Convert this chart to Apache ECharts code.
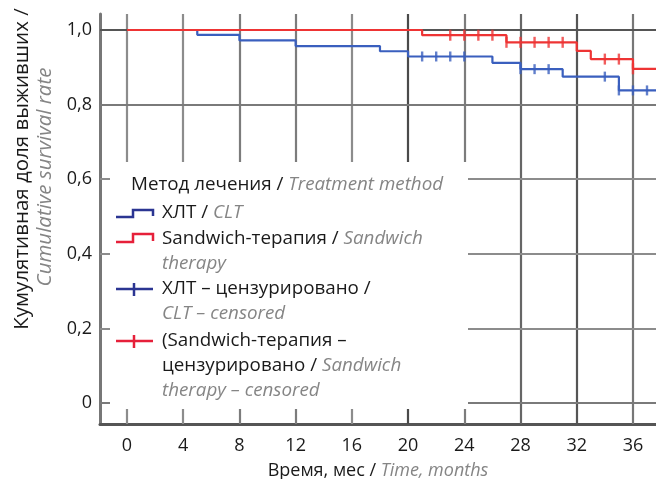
<!DOCTYPE html>
<html>
<head>
<meta charset="utf-8">
<script src="https://cdn.jsdelivr.net/npm/echarts@6/dist/echarts.min.js"></script>
<style>html,body{margin:0;padding:0;background:#fff}#c{width:656px;height:479px}</style>
</head>
<body>
<div id="c"></div>
<script>
// ---- data ----
var xTicks = [0, 4, 8, 12, 16, 20, 24, 28, 32, 36];
var yTicks = [0, 0.2, 0.4, 0.6, 0.8, 1.0];
// Kaplan-Meier steps: [month, survival] – value holds from that month on
var cltSteps = [[0, 1.0], [5, 0.987], [8, 0.972], [12, 0.957], [18, 0.943], [20, 0.929], [26, 0.912], [28, 0.895], [31, 0.875], [35, 0.838], [37.64, 0.838]];
var sandwichSteps = [[0, 1.0], [21, 0.986], [27, 0.967], [32, 0.944], [33, 0.922], [36, 0.896], [37.64, 0.896]];
var cltCensored = [[21, 0.929], [22, 0.929], [23, 0.929], [24, 0.929], [28, 0.895], [29, 0.895], [30, 0.895], [34, 0.875], [35, 0.838], [36, 0.838], [37, 0.838]];
var sandwichCensored = [[23, 0.986], [24, 0.986], [25, 0.986], [26, 0.986], [27, 0.967], [28, 0.967], [29, 0.967], [30, 0.967], [31, 0.967], [34, 0.922], [35, 0.922], [36, 0.896]];

var FONT = '"Open Sans", sans-serif';
var BLACK = '#1a1a1a', GRAY = '#858585';
var blue = '#3a5fbe', red = '#ee3434';
var legBlue = '#2b3592', legRed = '#e6203a';

var vColors = ['#8c8c8c', '#8c8c8c', '#7c7c7c', '#7c7c7c', '#8c8c8c', '#4a4a4a', '#7c7c7c', '#666', '#555', '#777'];
var hColors = ['#7a7a7a', '#8c8c8c', '#8c8c8c', '#8c8c8c', '#7a7a7a', '#555'];

var gridLines = [];
xTicks.forEach(function (v, i) {
  gridLines.push({ xAxis: v, lineStyle: { color: vColors[i], width: 2.2, type: 'solid' } });
});
yTicks.forEach(function (v, i) {
  gridLines.push({ yAxis: v, lineStyle: { color: hColors[i], width: 2.2, type: 'solid' } });
});

var LFS = 18.8;
var rich = {
  b: { fill: BLACK, fontFamily: FONT, fontSize: LFS },
  g: { fill: GRAY, fontFamily: FONT, fontSize: LFS, fontStyle: 'italic' }
};
var TFS = 20.5;
var richT = {
  b: { fill: BLACK, fontFamily: FONT, fontSize: TFS },
  g: { fill: GRAY, fontFamily: FONT, fontSize: TFS, fontStyle: 'italic' }
};

function txt(x, y, s) {
  return { type: 'text', x: x, y: y, z: 101,
    style: { text: s, rich: rich, fontSize: LFS, fontFamily: FONT, verticalAlign: 'middle' } };
}
function poly(pts, color) {
  return { type: 'polyline', z: 101, shape: { points: pts }, style: { stroke: color, lineWidth: 2.5, fill: null } };
}

var chart = echarts.init(document.getElementById('c'));
chart.setOption({
  animation: false,
  grid: { left: 100, right: 0, top: 14, bottom: 55, containLabel: false, outerBoundsMode: 'none' },
  xAxis: {
    type: 'value', min: -1.921, max: 37.64,
    axisLine: { show: true, onZero: false, lineStyle: { color: '#555', width: 3 } },
    axisTick: { show: false },
    splitLine: { show: false },
    axisLabel: { customValues: xTicks, color: BLACK, fontSize: 18, fontFamily: FONT, margin: 13 },
    name: '{b|Время, мес / }{g|Time, months}',
    nameLocation: 'middle', nameGap: 38,
    nameTextStyle: { rich: { b: { color: BLACK, fontFamily: FONT, fontSize: 18 }, g: { color: GRAY, fontFamily: FONT, fontSize: 18, fontStyle: 'italic' } } }
  },
  yAxis: {
    type: 'value', min: -0.0563, max: 1.0429,
    axisLine: { show: true, onZero: false, lineStyle: { color: '#777', width: 3 } },
    axisTick: { show: false },
    splitLine: { show: false },
    axisLabel: { customValues: yTicks, color: BLACK, fontSize: 18, fontFamily: FONT, margin: 8,
      formatter: function (v) { return v === 0 ? '0' : v.toFixed(1).replace('.', ','); } }
  },
  series: [
    { type: 'line', data: [], silent: true, z: 1,
      markLine: { silent: true, z: 1, symbol: 'none', label: { show: false }, animation: false, data: gridLines } },
    { type: 'line', name: 'ХЛТ', step: 'end', data: cltSteps, showSymbol: false, lineStyle: { color: blue, width: 2.2 }, z: 6 },
    { type: 'line', name: 'Sandwich', step: 'end', data: sandwichSteps, showSymbol: false, lineStyle: { color: red, width: 2.2 }, z: 7 },
    { type: 'scatter', data: cltCensored, symbol: 'rect', symbolSize: [2.4, 10], itemStyle: { color: blue }, z: 8 },
    { type: 'scatter', data: sandwichCensored, symbol: 'rect', symbolSize: [2.4, 11], itemStyle: { color: red }, z: 9 }
  ],
  graphic: [
    { type: 'rect', z: 100, shape: { x: 110, y: 162, width: 358, height: 247 }, style: { fill: '#fff' } },
    txt(131, 185, '{b|Метод лечения / }{g|Treatment method}'),
    poly([[116, 217], [133, 217], [133, 210], [153, 210], [153, 216]], legBlue),
    txt(162, 213, '{b|ХЛТ / }{g|CLT}'),
    poly([[116, 242], [133, 242], [133, 234], [153, 234], [153, 241]], legRed),
    txt(162, 239, '{b|Sandwich-терапия / }{g|Sandwich}'),
    txt(162, 264, '{g|therapy}'),
    poly([[116, 289], [153, 289]], legBlue),
    poly([[134, 283], [134, 296]], legBlue),
    txt(162, 289, '{b|ХЛТ – цензурировано /}'),
    txt(162, 314, '{g|CLT – censored}'),
    poly([[116, 341], [153, 341]], legRed),
    poly([[134, 335], [134, 348]], legRed),
    txt(162, 341, '{b|(Sandwich-терапия –}'),
    txt(162, 366, '{b|цензурировано / }{g|Sandwich}'),
    txt(162, 391, '{g|therapy – censored}'),
    { type: 'text', x: 22, y: 169, rotation: Math.PI / 2, z: 101,
      style: { text: '{b|Кумулятивная доля выживших /}', rich: richT, fontSize: TFS, align: 'center', verticalAlign: 'middle' } },
    { type: 'text', x: 45, y: 177, rotation: Math.PI / 2, z: 101,
      style: { text: '{g|Cumulative survival rate}', rich: richT, fontSize: TFS, align: 'center', verticalAlign: 'middle' } }
  ]
});
</script>
</body>
</html>
